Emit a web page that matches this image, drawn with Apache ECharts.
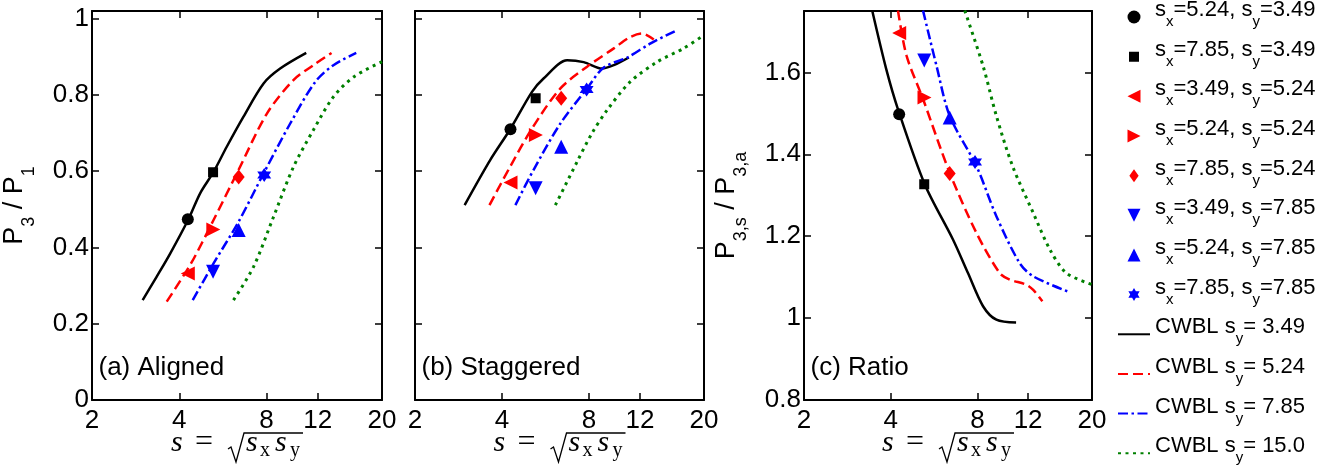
<!DOCTYPE html>
<html><head><meta charset="utf-8">
<script src="https://cdn.jsdelivr.net/npm/echarts@6/dist/echarts.min.js"></script>
<style>html,body{margin:0;padding:0;background:#fff}#c{width:1343px;height:468px}</style>
</head><body><div id="c"></div>
<script>
// ---------------- data ----------------
const xTicks = [2, 4, 8, 12, 20];
const curveNames = ['CWBL sy= 3.49', 'CWBL sy= 5.24', 'CWBL sy= 7.85', 'CWBL sy= 15.0'];
const markerNames = ['sx=5.24, sy=3.49', 'sx=7.85, sy=3.49', 'sx=3.49, sy=5.24', 'sx=5.24, sy=5.24',
  'sx=7.85, sy=5.24', 'sx=3.49, sy=7.85', 'sx=5.24, sy=7.85', 'sx=7.85, sy=7.85'];
const markerS = [4.28, 5.23, 4.28, 5.24, 6.41, 5.23, 6.41, 7.85];
const markerAligned = [0.474, 0.597, 0.332, 0.447, 0.585, 0.336, 0.446, 0.590];
const markerStaggered = [0.710, 0.791, 0.570, 0.695, 0.791, 0.555, 0.664, 0.814];
const markerRatio = [1.498, 1.327, 1.696, 1.539, 1.353, 1.629, 1.490, 1.381];

// (a) Aligned  [s, P3/P1]
const alignedSy349 = [[2.99,0.262],[3.34,0.323],[3.72,0.384],[4.30,0.474],[4.72,0.542],[5.25,0.598],[5.83,0.664],[6.66,0.743],[7.81,0.830],[8.91,0.869],[10.96,0.910]];
const alignedSy524 = [[3.62,0.258],[4.39,0.358],[5.25,0.472],[6.40,0.603],[8.02,0.751],[9.90,0.839],[11.6,0.878],[13.4,0.910]];
const alignedSy785 = [[4.45,0.262],[5.25,0.358],[6.40,0.467],[7.81,0.594],[9.65,0.725],[11.77,0.834],[13.6,0.878],[16.3,0.910]];
const alignedSy150 = [[6.15,0.262],[7.21,0.349],[8.45,0.480],[9.90,0.611],[11.6,0.708],[13.6,0.795],[15.96,0.847],[20,0.887]];
// (b) Staggered
const staggeredSy349 = [[2.97,0.511],[3.64,0.629],[4.27,0.710],[5.08,0.808],[5.57,0.843],[6.72,0.891],[7.67,0.886],[8.88,0.869],[9.75,0.878],[10.99,0.898]];
const staggeredSy524 = [[3.62,0.511],[4.27,0.612],[5.08,0.712],[6.37,0.817],[7.88,0.874],[9.75,0.922],[11.0,0.950],[12.2,0.961],[13.4,0.945]];
const staggeredSy785 = [[4.45,0.511],[5.14,0.603],[6.37,0.725],[7.88,0.817],[9.0,0.872],[10.85,0.898],[13.07,0.935],[15.95,0.968]];
const staggeredSy150 = [[6.12,0.511],[7.28,0.625],[8.2,0.700],[9.24,0.760],[11.1,0.834],[13.8,0.887],[17.0,0.922],[20,0.957]];
// (c) Ratio
const ratioSy349 = [[3.45,1.751],[3.86,1.608],[4.24,1.510],[5.25,1.327],[6.58,1.192],[7.42,1.110],[8.37,1.029],[9.31,0.996],[10.9,0.989]];
const ratioSy524 = [[4.24,1.751],[4.54,1.641],[5.18,1.535],[6.41,1.355],[7.94,1.208],[9.56,1.110],[10.36,1.094],[11.8,1.082],[12.5,1.069],[13.45,1.041]];
const ratioSy785 = [[5.18,1.751],[5.77,1.616],[6.41,1.494],[7.94,1.371],[9.31,1.249],[11.2,1.135],[12.5,1.102],[16.5,1.065]];
const ratioSy150 = [[7.23,1.751],[8.37,1.616],[9.31,1.494],[10.6,1.371],[12.5,1.257],[14.3,1.167],[16.3,1.110],[20,1.082]];

// ---------------- styles ----------------
const FONT = 'Liberation Sans';
const curveStyles = [
  {color:'#000000', type:'solid', width:2.5},
  {color:'#ff0000', type:[10,5], width:2.5},
  {color:'#0000ff', type:[10,3.5,2.5,3.5], width:2.5},
  {color:'#008000', type:[3,4.5], width:3}
];
const markerStyles = [
  {symbol:'circle', size:12, color:'#000000'},
  {symbol:'path://M-1.5,-1.5L-1.5,-1.5ZM11.5,11.5L11.5,11.5ZM0,0L10,0L10,10L0,10Z', size:13, color:'#000000'},
  {symbol:'path://M0,5L10,0L10,10Z', size:14, color:'#ff0000'},
  {symbol:'path://M10,5L0,0L0,10Z', size:14, color:'#ff0000'},
  {symbol:'path://M5,0L10,7L5,14L0,7Z', size:[12,15], color:'#ff0000'},
  {symbol:'path://M0,0L10,0L5,10Z', size:14, color:'#0000ff'},
  {symbol:'path://M5,0L10,10L0,10Z', size:14, color:'#0000ff'},
  {symbol:'path://M0,-10L2.89,-5L8.66,-5L5.77,0L8.66,5L2.89,5L0,10L-2.89,5L-8.66,5L-5.77,0L-8.66,-5L-2.89,-5Z', size:14, color:'#0000ff'}
];

const grids = [
  {left:92, top:11, width:290, height:389},
  {left:415, top:11, width:289, height:389},
  {left:804, top:11, width:288, height:389}
];
const panels = [
  {curves:[alignedSy349, alignedSy524, alignedSy785, alignedSy150], markers:markerAligned, ymin:0, ymax:1.02, label:'(a) Aligned'},
  {curves:[staggeredSy349, staggeredSy524, staggeredSy785, staggeredSy150], markers:markerStaggered, ymin:0, ymax:1.02, label:'(b) Staggered'},
  {curves:[ratioSy349, ratioSy524, ratioSy785, ratioSy150], markers:markerRatio, ymin:0.8, ymax:1.75, label:'(c) Ratio'}
];

function xAx(gi, pos) {
  return {type:'log', logBase:10, gridIndex:gi, position:pos, min:2, max:20,
    axisLine:{show:true, onZero:false, lineStyle:{color:'#000', width:2}},
    axisTick:{show:true, inside:true, length:7, customValues:xTicks, lineStyle:{color:'#000', width:1.5}},
    axisLabel:{show:pos==='bottom', customValues:xTicks, color:'#000', fontSize:26, fontFamily:FONT, margin:8},
    splitLine:{show:false}, minorTick:{show:false}, minorSplitLine:{show:false}};
}
const titleRich = {
  m:{fontSize:27, lineHeight:27, verticalAlign:'top', fontFamily:FONT, color:'#000'},
  s:{fontSize:18, padding:[19,0,0,0], verticalAlign:'top', fontFamily:FONT, color:'#000'}
};
function yAx(gi, pos, p, showLabel, name) {
  const ax = {type:'value', gridIndex:gi, position:pos, min:p.ymin, max:p.ymax, interval:0.2,
    axisLine:{show:true, onZero:false, lineStyle:{color:'#000', width:2}},
    axisTick:{show:true, inside:true, length:7, lineStyle:{color:'#000', width:1.5}},
    axisLabel:{show:showLabel, showMaxLabel:false, color:'#000', fontSize:26, fontFamily:FONT, margin:3},
    splitLine:{show:false}};
  if (name) {
    ax.name = name; ax.nameLocation = 'middle'; ax.nameRotate = 90; ax.nameGap = 54;
    ax.nameTextStyle = {color:'#000', rich:titleRich};
  }
  return ax;
}

const xAxis = [], yAxis = [], series = [];
panels.forEach((p, gi) => {
  xAxis.push(xAx(gi, 'bottom'), xAx(gi, 'top'));
  let yname = null;
  if (gi === 0) yname = '{m|P}{s|3}{m| / P}{s|1}';
  if (gi === 2) yname = '{m|P}{s|3,s}{m| / P}{s|3,a}';
  yAxis.push(yAx(gi, 'left', p, gi !== 1, yname), yAx(gi, 'right', p, false, null));
  p.curves.forEach((c, k) => {
    series.push({type:'line', name:curveNames[k], xAxisIndex:2*gi, yAxisIndex:2*gi, data:c,
      symbol:'none', smooth:0.3, clip:true, z:2,
      lineStyle:{color:curveStyles[k].color, width:curveStyles[k].width, type:curveStyles[k].type, cap:'butt'},
      itemStyle:{color:curveStyles[k].color}});
  });
  markerNames.forEach((n, k) => {
    const ms = markerStyles[k];
    series.push({type:'scatter', name:n, xAxisIndex:2*gi, yAxisIndex:2*gi,
      data:[[markerS[k], p.markers[k]]], symbol:ms.symbol, symbolSize:ms.size,
      itemStyle:{color:ms.color, opacity:1}, z:3});
  });
});

function richName(name) {
  let out = '', last = 0, m; const re = /s([xy])/g;
  while ((m = re.exec(name))) {
    out += '{m|' + name.slice(last, m.index) + 's}{s|' + m[1] + '}';
    last = re.lastIndex;
  }
  if (last < name.length) out += '{m|' + name.slice(last) + '}';
  return out + '{e| }';
}

// math x-axis title  s = sqrt(sx sy)
function mathTitle(cx, base) {
  const els = [];
  const T = (t, dx, dy, fs, italic) => els.push({type:'text', silent:true, z:10,
    style:{text:t, x:cx + dx, y:base + dy - 0.305 * fs, font:(italic ? 'italic ' : '') + fs + 'px "Liberation Serif"',
      fill:'#000', align:'left', verticalAlign:'middle'}});
  T('s', -66, 0, 30, true);
  T('=', -42, 0, 32, false);
  T('s', 9, 0, 30, true);
  T('x', 23, 5, 20, false);
  T('s', 38, 0, 30, true);
  T('y', 53, 5, 20, false);
  els.push({type:'polyline', silent:true, z:10,
    shape:{points:[[cx - 9, base - 3], [cx - 6, base - 5], [cx - 1, base + 10], [cx + 7, base - 19], [cx + 66, base - 19]]},
    style:{stroke:'#000', lineWidth:1.3, fill:null}});
  return els;
}

const graphic = [];
grids.forEach((g, gi) => {
  graphic.push({type:'text', silent:true, style:{text:panels[gi].label, x:g.left + 6.5, y:368, font:'26px "Liberation Sans"', fill:'#000', align:'left', verticalAlign:'middle'}});
  mathTitle(g.left + g.width / 2, 452).forEach(e => graphic.push(e));
});

const chart = echarts.init(document.getElementById('c'), null, {renderer:'canvas'});
chart.setOption({
  animation:false,
  textStyle:{fontFamily:FONT},
  grid:grids,
  xAxis:xAxis, yAxis:yAxis, series:series,
  legend:{orient:'vertical', left:1117, top:-1, height:700, padding:0, itemWidth:32, itemHeight:13, itemGap:3.66,
    symbolKeepAspect:true, selectedMode:false,
    data:markerNames.concat(curveNames.map(n => ({name:n, itemStyle:{opacity:0}}))),
    formatter:richName,
    textStyle:{color:'#000', fontSize:22, fontFamily:FONT,
      rich:{m:{fontSize:22, lineHeight:22, verticalAlign:'top', fontFamily:FONT, color:'#000'},
            s:{fontSize:15, padding:[15.5,0,0,0], verticalAlign:'top', fontFamily:FONT, color:'#000'},
            e:{fontSize:2, padding:[34,0,0,0], verticalAlign:'top'}}}},
  graphic:graphic
});
</script></body></html>
